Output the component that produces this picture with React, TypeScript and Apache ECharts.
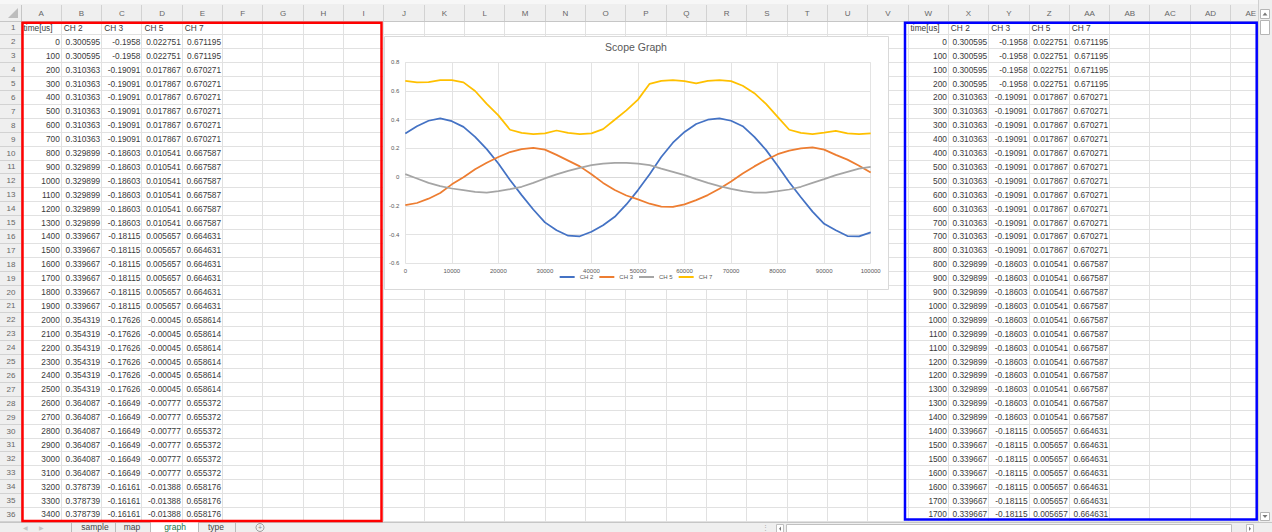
import React, { useEffect, useRef } from 'react';
import * as echarts from 'echarts';

// ---------- chart data ----------
const chartTime = [
  0, 2500, 5000, 7500, 10000, 12500, 15000, 17500, 20000, 22500,
  25000, 27500, 30000, 32500, 35000, 37500, 40000, 42500, 45000, 47500,
  50000, 52500, 55000, 57500, 60000, 62500, 65000, 67500, 70000, 72500,
  75000, 77500, 80000, 82500, 85000, 87500, 90000, 92500, 95000, 97500, 100000,
];
const ch2Values = [
  0.304, 0.355, 0.393, 0.409, 0.39, 0.35, 0.28, 0.195, 0.095, -0.02,
  -0.125, -0.225, -0.315, -0.37, -0.408, -0.412, -0.38, -0.335, -0.276, -0.19,
  -0.09, 0.02, 0.14, 0.24, 0.315, 0.37, 0.4, 0.41, 0.393, 0.355,
  0.28, 0.19, 0.08, -0.035, -0.14, -0.24, -0.325, -0.37, -0.41, -0.412, -0.385,
];
const ch3Values = [
  -0.195, -0.18, -0.15, -0.11, -0.05, 0.0, 0.055, 0.1, 0.14, 0.175,
  0.195, 0.204, 0.192, 0.155, 0.115, 0.075, 0.02, -0.04, -0.09, -0.128,
  -0.155, -0.185, -0.205, -0.207, -0.19, -0.16, -0.125, -0.08, -0.03, 0.025,
  0.075, 0.12, 0.16, 0.185, 0.2, 0.207, 0.192, 0.155, 0.122, 0.08, 0.033,
];
const ch5Values = [
  0.021, -0.009, -0.04, -0.063, -0.079, -0.09, -0.102, -0.107, -0.098, -0.084,
  -0.067, -0.04, -0.009, 0.019, 0.044, 0.065, 0.084, 0.095, 0.1, 0.1,
  0.095, 0.084, 0.06, 0.037, 0.014, -0.014, -0.04, -0.063, -0.081, -0.098,
  -0.107, -0.107, -0.098, -0.086, -0.067, -0.04, -0.014, 0.014, 0.037, 0.06, 0.072,
];
const ch7Values = [
  0.671, 0.66, 0.662, 0.676, 0.676, 0.66, 0.6, 0.51, 0.43, 0.33,
  0.308, 0.3, 0.305, 0.325, 0.308, 0.3, 0.305, 0.335, 0.4, 0.465,
  0.54, 0.65, 0.671, 0.676, 0.669, 0.653, 0.671, 0.676, 0.669, 0.637,
  0.585, 0.51, 0.42, 0.33, 0.308, 0.3, 0.31, 0.322, 0.305, 0.3, 0.305,
];
const seriesNames = ['CH 2', 'CH 3', 'CH 5', 'CH 7'];
const seriesColors = ['#4472C4', '#ED7D31', '#A5A5A5', '#FFC000'];
const xTicks = { min: 0, max: 100000, interval: 10000 };
const yTicks = { min: -0.6, max: 0.8, interval: 0.2 };

// ---------- sheet data ----------
const headerRow = ['time[us]', 'CH 2', 'CH 3', 'CH 5', 'CH 7'];
const tableTime = [
  0, 100, 200, 300, 400, 500, 600, 700, 800, 900, 1000, 1100, 1200, 1300, 1400, 1500, 1600, 1700,
  1800, 1900, 2000, 2100, 2200, 2300, 2400, 2500, 2600, 2700, 2800, 2900, 3000, 3100, 3200, 3300, 3400,
];
const tableCh2 = [
  0.300595, 0.300595,
  0.310363, 0.310363, 0.310363, 0.310363, 0.310363, 0.310363,
  0.329899, 0.329899, 0.329899, 0.329899, 0.329899, 0.329899,
  0.339667, 0.339667, 0.339667, 0.339667, 0.339667, 0.339667,
  0.354319, 0.354319, 0.354319, 0.354319, 0.354319, 0.354319,
  0.364087, 0.364087, 0.364087, 0.364087, 0.364087, 0.364087,
  0.378739, 0.378739, 0.378739,
];
const tableCh3 = [
  -0.1958, -0.1958,
  -0.19091, -0.19091, -0.19091, -0.19091, -0.19091, -0.19091,
  -0.18603, -0.18603, -0.18603, -0.18603, -0.18603, -0.18603,
  -0.18115, -0.18115, -0.18115, -0.18115, -0.18115, -0.18115,
  -0.17626, -0.17626, -0.17626, -0.17626, -0.17626, -0.17626,
  -0.16649, -0.16649, -0.16649, -0.16649, -0.16649, -0.16649,
  -0.16161, -0.16161, -0.16161,
];
const tableCh5 = [
  0.022751, 0.022751,
  0.017867, 0.017867, 0.017867, 0.017867, 0.017867, 0.017867,
  0.010541, 0.010541, 0.010541, 0.010541, 0.010541, 0.010541,
  0.005657, 0.005657, 0.005657, 0.005657, 0.005657, 0.005657,
  -0.00045, -0.00045, -0.00045, -0.00045, -0.00045, -0.00045,
  -0.00777, -0.00777, -0.00777, -0.00777, -0.00777, -0.00777,
  -0.01388, -0.01388, -0.01388,
];
const tableCh7 = [
  0.671195, 0.671195,
  0.670271, 0.670271, 0.670271, 0.670271, 0.670271, 0.670271,
  0.667587, 0.667587, 0.667587, 0.667587, 0.667587, 0.667587,
  0.664631, 0.664631, 0.664631, 0.664631, 0.664631, 0.664631,
  0.658614, 0.658614, 0.658614, 0.658614, 0.658614, 0.658614,
  0.655372, 0.655372, 0.655372, 0.655372, 0.655372, 0.655372,
  0.658176, 0.658176, 0.658176,
];
const columnLetters = [
  'A', 'B', 'C', 'D', 'E', 'F', 'G', 'H', 'I', 'J', 'K', 'L', 'M', 'N', 'O', 'P',
  'Q', 'R', 'S', 'T', 'U', 'V', 'W', 'X', 'Y', 'Z', 'AA', 'AB', 'AC', 'AD', 'AE',
];
const sheetTabs = ['sample', 'map', 'graph', 'type'];
const activeTab = 'graph';

const FONT = '"Liberation Sans", Arial, sans-serif';

function buildGraphic(): any[] {
  const X0 = 21, CW = 40.32, Y0 = 21, RH = 13.9, NR = 36, NC = 31;
  const RIGHT = 1259;
  const BOTTOM = Y0 + NR * RH;
  const els: any[] = [];
  const px = (v: number) => Math.floor(v) + 0.5;
  const line = (x1: number, y1: number, x2: number, y2: number, stroke: string, z: number, w = 1) =>
    els.push({ type: 'line', z, silent: true, shape: { x1, y1, x2, y2 }, style: { stroke, lineWidth: w } });
  const text = (x: number, y: number, t: string, fill: string, size: number, align: string, z = -7, va = 'middle') =>
    els.push({
      type: 'text', z, silent: true, x, y,
      style: { text: t, fill, font: `${size}px ${FONT}`, textAlign: align, textVerticalAlign: va },
    });

  els.push({ type: 'rect', z: -10, silent: true, shape: { x: 0, y: 0, width: 1272, height: 532 }, style: { fill: '#ffffff' } });
  // column header band and row header band
  els.push({ type: 'rect', z: -9, silent: true, shape: { x: 0, y: 0, width: 1272, height: Y0 }, style: { fill: '#efefef' } });
  els.push({ type: 'rect', z: -9, silent: true, shape: { x: 0, y: 0, width: 1272, height: 4 }, style: { fill: '#f7f7f7' } });
  els.push({ type: 'rect', z: -9, silent: true, shape: { x: 0, y: Y0, width: X0, height: NR * RH }, style: { fill: '#efefef' } });

  // grid lines
  for (let r = 1; r <= NR; r++) {
    const y = px(Y0 + r * RH);
    line(X0, y, RIGHT, y, '#e1e1e1', -8);
    line(0, y, X0, y, '#d2d2d2', -8);
  }
  for (let c = 1; c <= NC; c++) {
    const x = px(X0 + c * CW);
    if (x < RIGHT) {
      line(x, Y0, x, BOTTOM, '#e1e1e1', -8);
      line(x, 5, x, Y0, '#d2d2d2', -8);
    }
  }
  line(0, px(Y0), RIGHT, px(Y0), '#c6c6c6', -8);
  line(px(X0), 5, px(X0), BOTTOM, '#c6c6c6', -8);
  // select-all triangle
  els.push({ type: 'polygon', z: -8, silent: true, shape: { points: [[18, 8], [18, 18], [8, 18]] }, style: { fill: '#bdbdbd' } });

  // column letters
  columnLetters.forEach((l, c) => text(X0 + (c + 0.5) * CW, 13, l, '#666666', 8, 'center'));
  // row numbers
  for (let r = 1; r <= NR; r++) text(15.5, Y0 + (r - 0.5) * RH, String(r), '#666666', 8, 'right');

  const cellText = '#3a3a3a';
  const drawTable = (startCol: number, rows: number[][]) => {
    headerRow.forEach((h, i) => text(X0 + (startCol + i) * CW + 2.5, Y0 + 0.5 * RH, h, cellText, 8.3, 'left'));
    rows.forEach((row, r) => {
      row.forEach((v, i) => text(X0 + (startCol + i + 1) * CW - 1.5, Y0 + (r + 1.5) * RH, String(v), cellText, 8.3, 'right'));
    });
  };
  const leftRows = tableTime.map((t, i) => [t, tableCh2[i], tableCh3[i], tableCh5[i], tableCh7[i]]);
  drawTable(0, leftRows);
  // right table: step form of the same samples (each time repeated with previous and new value)
  const rightRows: number[][] = [leftRows[0]];
  for (let k = 1; rightRows.length < NR - 1; k++) {
    rightRows.push([tableTime[k], tableCh2[k - 1], tableCh3[k - 1], tableCh5[k - 1], tableCh7[k - 1]]);
    if (rightRows.length < NR - 1) rightRows.push(leftRows[k]);
  }
  drawTable(22, rightRows);

  // chart box
  els.push({
    type: 'rect', z: -5, silent: true,
    shape: { x: 384.5, y: 36.5, width: 504, height: 253 },
    style: { fill: '#ffffff', stroke: '#d9d9d9', lineWidth: 1 },
  });

  // bottom bar (sheet tabs + horizontal scroll)
  els.push({ type: 'rect', z: -4, silent: true, shape: { x: 0, y: 522, width: 1272, height: 10 }, style: { fill: '#efefef' } });
  line(0, 522.5, 1272, 522.5, '#c6c6c6', -4);
  text(25, 528, '◀', '#c4c4c4', 6, 'center', -3);
  text(41, 528, '▶', '#c4c4c4', 6, 'center', -3);
  const tabCenters = [95, 132, 175, 216];
  const tabSeps = [71.5, 115.5, 150.5, 198.5, 235.5];
  els.push({ type: 'rect', z: -3, silent: true, shape: { x: 151, y: 522, width: 47, height: 10 }, style: { fill: '#ffffff' } });
  tabSeps.forEach((x) => line(x, 523, x, 532, '#b9b9b9', -3));
  sheetTabs.forEach((t, i) =>
    text(tabCenters[i], 527.3, t, t === activeTab ? '#217346' : '#444444', 8.5, 'center', -3),
  );
  els.push({ type: 'circle', z: -3, silent: true, shape: { cx: 260, cy: 527.5, r: 4 }, style: { fill: 'none', stroke: '#8a8a8a', lineWidth: 0.8 } });
  text(260, 527.5, '+', '#8a8a8a', 7, 'center', -3);
  text(765, 527.5, '⋮', '#aaaaaa', 7, 'center', -3);
  els.push({ type: 'rect', z: -3, silent: true, shape: { x: 776.5, y: 524.5, width: 7, height: 8 }, style: { fill: '#ffffff', stroke: '#c0c0c0', lineWidth: 1 } });
  els.push({ type: 'rect', z: -3, silent: true, shape: { x: 786.5, y: 524.5, width: 445, height: 8 }, style: { fill: '#ffffff', stroke: '#c0c0c0', lineWidth: 1 } });
  els.push({ type: 'rect', z: -3, silent: true, shape: { x: 1246.5, y: 524.5, width: 7, height: 8 }, style: { fill: '#ffffff', stroke: '#c0c0c0', lineWidth: 1 } });
  els.push({ type: 'polygon', z: -3, silent: true, shape: { points: [[781, 526.5], [781, 531], [779, 528.7]] }, style: { fill: '#777777' } });
  els.push({ type: 'polygon', z: -3, silent: true, shape: { points: [[1249, 526.5], [1249, 531], [1251, 528.7]] }, style: { fill: '#777777' } });

  // vertical scrollbar
  els.push({ type: 'rect', z: -3, silent: true, shape: { x: 1259, y: 0, width: 13, height: 522 }, style: { fill: '#efefef' } });
  line(1258.5, 0, 1258.5, 522, '#d0d0d0', -3);
  els.push({ type: 'rect', z: -3, silent: true, shape: { x: 1260.5, y: 9.5, width: 9, height: 9 }, style: { fill: '#ffffff', stroke: '#b5b5b5', lineWidth: 1 } });
  els.push({ type: 'polygon', z: -3, silent: true, shape: { points: [[1262.5, 15.5], [1267.5, 15.5], [1265, 12.5]] }, style: { fill: '#777777' } });
  els.push({ type: 'rect', z: -3, silent: true, shape: { x: 1260.5, y: 20.5, width: 9, height: 14 }, style: { fill: '#ffffff', stroke: '#b5b5b5', lineWidth: 1 } });
  els.push({ type: 'rect', z: -3, silent: true, shape: { x: 1260.5, y: 512.5, width: 9, height: 8 }, style: { fill: '#ffffff', stroke: '#b5b5b5', lineWidth: 1 } });
  els.push({ type: 'polygon', z: -3, silent: true, shape: { points: [[1262.5, 515], [1267.5, 515], [1265, 518]] }, style: { fill: '#777777' } });

  // highlight frames
  els.push({
    type: 'rect', z: -1, silent: true,
    shape: { x: 22.5, y: 22.8, width: 359, height: 498.2 },
    style: { fill: 'none', stroke: '#ff0000', lineWidth: 2.5 },
  });
  els.push({
    type: 'rect', z: -1, silent: true,
    shape: { x: 905, y: 22.8, width: 351.7, height: 496.8 },
    style: { fill: 'none', stroke: '#0000ff', lineWidth: 2.5 },
  });
  return els;
}

export default function App() {
  const ref = useRef<HTMLDivElement>(null);
  useEffect(() => {
    if (!ref.current) return;
    const chart = echarts.init(ref.current, undefined, { renderer: 'svg' });
    const values = [ch2Values, ch3Values, ch5Values, ch7Values];
    const axisText = { fontSize: 6, color: '#595959', fontFamily: FONT };
    chart.setOption({
      animation: false,
      backgroundColor: '#ffffff',
      title: {
        text: 'Scope Graph',
        left: 'center',
        top: 41,
        padding: 0,
        textStyle: { fontSize: 10.5, fontWeight: 'normal', color: '#595959', fontFamily: FONT },
      },
      legend: {
        data: seriesNames,
        left: 'center',
        top: 274,
        padding: 0,
        icon: 'rect',
        itemWidth: 15,
        itemHeight: 2,
        itemGap: 6,
        textStyle: { fontSize: 6, color: '#595959', fontFamily: FONT },
      },
      grid: { left: 405.3, top: 62.3, width: 465.4, height: 201, containLabel: false, outerBoundsMode: 'none' },
      xAxis: {
        type: 'value',
        min: xTicks.min,
        max: xTicks.max,
        interval: xTicks.interval,
        axisLine: { show: true, onZero: true, lineStyle: { color: '#d9d9d9', width: 1 } },
        axisTick: { show: false },
        axisLabel: { ...axisText, margin: 5, formatter: (v: number) => String(v) },
        splitLine: { show: true, lineStyle: { color: '#e3e3e3', width: 1 } },
      },
      yAxis: {
        type: 'value',
        min: yTicks.min,
        max: yTicks.max,
        interval: yTicks.interval,
        axisLine: { show: false },
        axisTick: { show: false },
        axisLabel: { ...axisText, margin: 6 },
        splitLine: { show: true, lineStyle: { color: '#e3e3e3', width: 1 } },
      },
      series: seriesNames.map((name, i) => ({
        name,
        type: 'line',
        data: chartTime.map((t, j) => [t, values[i][j]]),
        showSymbol: false,
        symbol: 'none',
        smooth: false,
        color: seriesColors[i],
        lineStyle: { width: 1.75, color: seriesColors[i] },
        itemStyle: { color: seriesColors[i] },
        z: 3,
      })),
      graphic: { elements: buildGraphic() },
    });
    return () => chart.dispose();
  }, []);
  return <div ref={ref} style={{ position: 'fixed', left: 0, top: 0, width: 1272, height: 532 }} />;
}
